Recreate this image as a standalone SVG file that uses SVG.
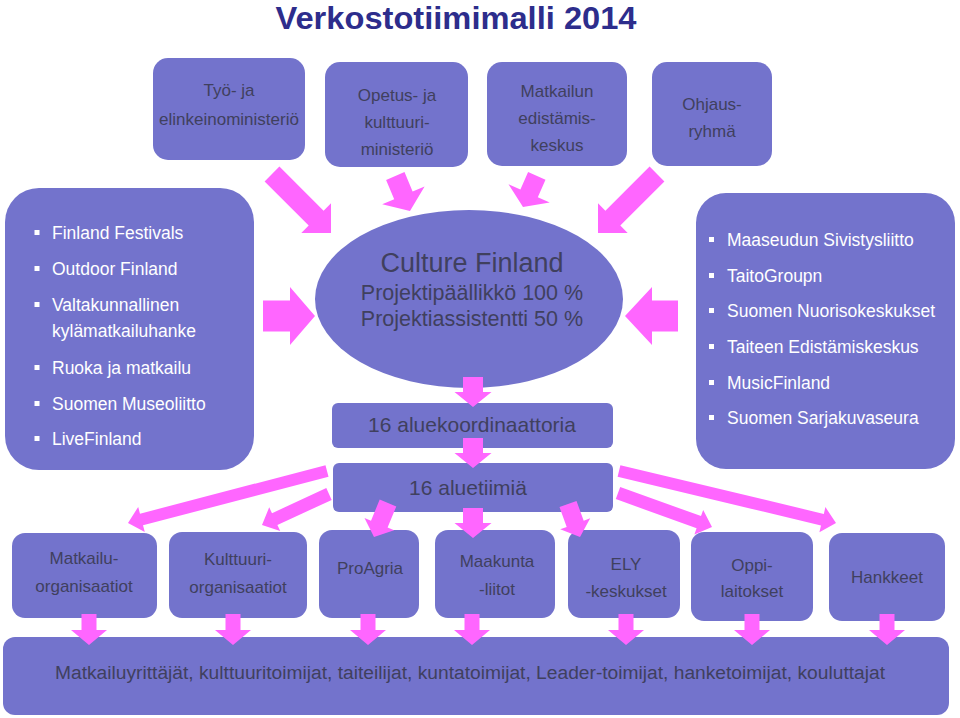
<svg xmlns="http://www.w3.org/2000/svg" xmlns:xlink="http://www.w3.org/1999/xlink" width="960" height="718" viewBox="0 0 960 718">
<style>
.box{fill:#7373CC;}
.t{font-family:"Liberation Sans",Arial,sans-serif;font-size:17px;fill:#40405E;text-anchor:middle;}
.l{font-family:"Liberation Sans",Arial,sans-serif;font-size:17.5px;fill:#FFFFFF;}
.b{fill:#FFFFFF;}
.arr{fill:#FF66FF;}
.title{font-family:"Liberation Sans",Arial,sans-serif;font-size:31px;font-weight:bold;fill:#2D2D8C;text-anchor:middle;}
</style>
<defs>
<polygon id="vdown" points="-10,0 -10,15 -18.5,15 0,30 18.5,15 10,15 10,0"/>
<polygon id="sdown" points="-7.5,0 -7.5,16 -18,16 0,31 18,16 7.5,16 7.5,0"/>
<rect id="bul" width="5" height="5"/>
</defs>
<rect width="960" height="718" fill="#FFFFFF"/>
<text class="title" x="456" y="29" textLength="361" lengthAdjust="spacingAndGlyphs">Verkostotiimimalli 2014</text>

<g id="tem">
<rect class="box" x="153" y="58" width="152" height="102" rx="15"/>
<text class="t" x="229" y="96">Työ- ja</text>
<text class="t" x="229" y="125">elinkeinoministeriö</text>
</g>
<g id="okm">
<rect class="box" x="325" y="62" width="143" height="105" rx="15"/>
<text class="t" x="397" y="101">Opetus- ja</text>
<text class="t" x="397" y="128">kulttuuri-</text>
<text class="t" x="397" y="155">ministeriö</text>
</g>
<g id="mek">
<rect class="box" x="487" y="62" width="140" height="104" rx="15"/>
<text class="t" x="557" y="97">Matkailun</text>
<text class="t" x="557" y="124">edistämis-</text>
<text class="t" x="557" y="151">keskus</text>
</g>
<g id="ohjaus">
<rect class="box" x="652" y="62" width="120" height="104" rx="15"/>
<text class="t" x="712" y="110">Ohjaus-</text>
<text class="t" x="712" y="137">ryhmä</text>
</g>

<g id="leftlist">
<rect class="box" x="5" y="188" width="249" height="282" rx="34"/>
<use href="#bul" class="b" x="34.5" y="230"/>
<text class="l" x="52" y="239">Finland Festivals</text>
<use href="#bul" class="b" x="34.5" y="266"/>
<text class="l" x="52" y="275">Outdoor Finland</text>
<use href="#bul" class="b" x="34.5" y="302"/>
<text class="l" x="52" y="311">Valtakunnallinen</text>
<text class="l" x="52" y="337">kylämatkailuhanke</text>
<use href="#bul" class="b" x="34.5" y="365"/>
<text class="l" x="52" y="374">Ruoka ja matkailu</text>
<use href="#bul" class="b" x="34.5" y="401"/>
<text class="l" x="52" y="410">Suomen Museoliitto</text>
<use href="#bul" class="b" x="34.5" y="436"/>
<text class="l" x="52" y="445">LiveFinland</text>
</g>

<g id="rightlist">
<rect class="box" x="696" y="193" width="259" height="276" rx="30"/>
<use href="#bul" class="b" x="709" y="237"/>
<text class="l" x="727" y="246">Maaseudun Sivistysliitto</text>
<use href="#bul" class="b" x="709" y="273"/>
<text class="l" x="727" y="282">TaitoGroupn</text>
<use href="#bul" class="b" x="709" y="308"/>
<text class="l" x="727" y="317">Suomen Nuorisokeskukset</text>
<use href="#bul" class="b" x="709" y="344"/>
<text class="l" x="727" y="353">Taiteen Edistämiskeskus</text>
<use href="#bul" class="b" x="709" y="380"/>
<text class="l" x="727" y="389">MusicFinland</text>
<use href="#bul" class="b" x="709" y="415"/>
<text class="l" x="727" y="424">Suomen Sarjakuvaseura</text>
</g>

<g id="culturefinland">
<ellipse class="box" cx="469" cy="299" rx="154" ry="89"/>
<text class="t" x="472" y="272" style="font-size:27px">Culture Finland</text>
<text class="t" x="472" y="300" style="font-size:21.5px">Projektipäällikkö 100 %</text>
<text class="t" x="472" y="326" style="font-size:21.5px">Projektiassistentti 50 %</text>
</g>
<g id="aluekoordinaattorit">
<rect class="box" x="332" y="403" width="281" height="45" rx="6"/>
<text class="t" x="472" y="432" style="font-size:21px">16 aluekoordinaattoria</text>
</g>
<g id="aluetiimit">
<rect class="box" x="333" y="463" width="280" height="49" rx="6"/>
<text class="t" x="468" y="495" style="font-size:21px">16 aluetiimiä</text>
</g>

<g id="matkailuorg">
<rect class="box" x="12" y="533" width="145" height="85" rx="13"/>
<text class="t" x="84" y="564">Matkailu-</text>
<text class="t" x="84" y="592">organisaatiot</text>
</g>
<g id="kulttuuriorg">
<rect class="box" x="169" y="532" width="138" height="86" rx="13"/>
<text class="t" x="238" y="565">Kulttuuri-</text>
<text class="t" x="238" y="593">organisaatiot</text>
</g>
<g id="proagria">
<rect class="box" x="319" y="530" width="100" height="88" rx="13"/>
<text class="t" x="370" y="574">ProAgria</text>
</g>
<g id="maakuntaliitot">
<rect class="box" x="435" y="530" width="120" height="88" rx="13"/>
<text class="t" x="497" y="567">Maakunta</text>
<text class="t" x="497" y="595">-liitot</text>
</g>
<g id="ely">
<rect class="box" x="568" y="530" width="112" height="88" rx="13"/>
<text class="t" x="626" y="570">ELY</text>
<text class="t" x="626" y="597">-keskukset</text>
</g>
<g id="oppilaitokset">
<rect class="box" x="691" y="532" width="122" height="89" rx="13"/>
<text class="t" x="752" y="571">Oppi-</text>
<text class="t" x="752" y="597">laitokset</text>
</g>
<g id="hankkeet">
<rect class="box" x="829" y="533" width="116" height="88" rx="13"/>
<text class="t" x="887" y="583">Hankkeet</text>
</g>

<g id="toimijat">
<rect class="box" x="3" y="637" width="946" height="78" rx="12"/>
<text class="t" x="470" y="679" style="font-size:18px" textLength="830" lengthAdjust="spacingAndGlyphs">Matkailuyrittäjät, kulttuuritoimijat, taiteilijat, kuntatoimijat, Leader-toimijat, hanketoimijat, kouluttajat</text>
</g>

<g id="connectors" class="arr">
<polygon points="264.6,181.4 308.7,225.6 301.3,233 331,233 331,203.3 323.6,210.7 279.4,166.6"/>
<polygon points="386.1,179.9 394.2,199.2 382.2,204.2 410,211 424.6,186.4 412.6,191.4 404.5,172.1"/>
<polygon points="528.1,172.0 520.4,189.4 508.5,184.2 523,207 549.7,202.4 537.8,197.2 545.5,179.8"/>
<polygon points="664.4,181.4 620.3,225.6 627.7,233 598,233 598,203.3 605.4,210.7 649.6,166.6"/>
<polygon points="263,300.5 290,300.5 290,287 315,316 290,345 290,331.5 263,331.5"/>
<polygon points="678,300.5 652,300.5 652,287 625,316 652,345 652,331.5 678,331.5"/>
<use href="#vdown" transform="translate(473,377)"/>
<use href="#vdown" transform="translate(473,438)"/>
<use href="#vdown" transform="translate(473,508)"/>
<polygon points="325.5,465.2 140.0,513.7 138.2,506.9 128,523 144.8,532.1 143.0,525.3 328.5,476.8"/>
<polygon points="326.3,488.1 272.0,513.2 269.2,507.3 262,525 280.2,530.9 277.4,525.0 331.7,499.9"/>
<polygon points="379.7,499.6 371.0,520.7 364.5,518.0 374,537 394.1,530.2 387.6,527.5 396.3,506.4"/>
<polygon points="559.5,507.1 566.7,526.9 560.2,529.3 580,537 590.2,518.3 583.7,520.7 576.5,500.9"/>
<polygon points="615.8,499.1 696.6,528.3 694.4,534.4 712,527 703.2,510.0 701.0,516.1 620.2,486.9"/>
<polygon points="617.6,476.8 821.0,525.5 819.4,532.3 836,523 825.4,507.1 823.8,513.9 620.4,465.2"/>
<use href="#sdown" transform="translate(89,614)"/>
<use href="#sdown" transform="translate(233,614)"/>
<use href="#sdown" transform="translate(368,614)"/>
<use href="#sdown" transform="translate(472,614)"/>
<use href="#sdown" transform="translate(626,614)"/>
<use href="#sdown" transform="translate(752,614)"/>
<use href="#sdown" transform="translate(887,614)"/>
</g>
</svg>
